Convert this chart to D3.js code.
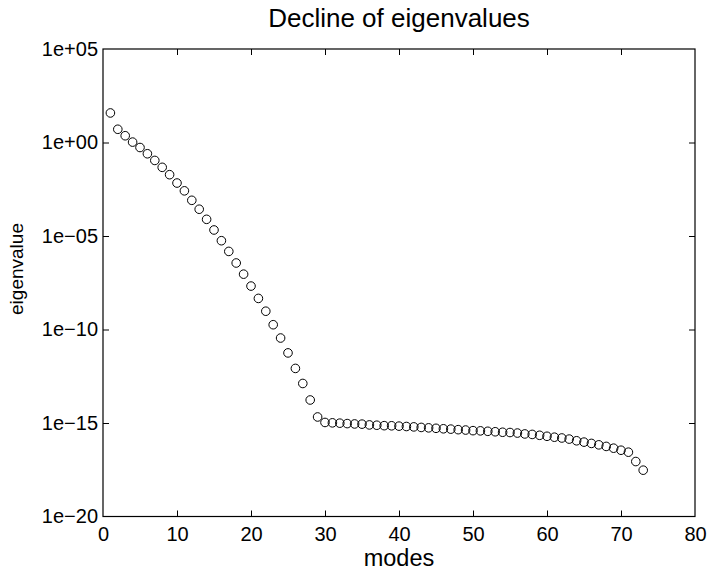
<!DOCTYPE html>
<html>
<head>
<meta charset="utf-8">
<script src="https://cdn.jsdelivr.net/npm/d3@7"></script>
<style>
  body { margin: 0; background: #fff; }
  text { font-family: "Liberation Sans", Arial, Helvetica, sans-serif; fill: #000; }
</style>
</head>
<body>
<div id="chart"></div>
<script>
// eigenvalues, one per mode (1..73)
let eigenvalues = [
    3.8e1, 5.1e0, 2.3e0, 1.05e0, 5.4e-1, 2.5e-1, 1.1e-1, 4.7e-2, 1.9e-2, 6.8e-3,
    2.6e-3, 8.1e-4, 2.7e-4, 7.8e-5, 2.1e-5, 5.6e-6, 1.5e-6, 3.6e-7, 9.1e-8, 2.1e-8,
    4.6e-9, 9.5e-10, 1.8e-10, 3.5e-11, 5.6e-12, 8.3e-13, 1.3e-13, 1.7e-14, 2.1e-15, 1.07e-15,
    1.02e-15, 9.8e-16, 9.3e-16, 8.9e-16, 8.7e-16, 7.9e-16, 7.6e-16, 7.2e-16, 7.1e-16, 6.8e-16,
    6.5e-16, 6.2e-16, 5.8e-16, 5.5e-16, 5.2e-16, 4.9e-16, 4.7e-16, 4.4e-16, 4.2e-16, 3.9e-16,
    3.8e-16, 3.6e-16, 3.4e-16, 3.2e-16, 3.1e-16, 2.9e-16, 2.6e-16, 2.45e-16, 2.2e-16, 1.95e-16,
    1.74e-16, 1.58e-16, 1.38e-16, 1.12e-16, 9.5e-17, 8.1e-17, 6.8e-17, 5.6e-17, 4.5e-17, 3.5e-17,
    2.75e-17, 8.7e-18, 3.0e-18
];
let modes = eigenvalues.map(function (d, i) { return i + 1; });

let xTicks = [0, 10, 20, 30, 40, 50, 60, 70, 80];
let yTicks = [1e5, 1e0, 1e-5, 1e-10, 1e-15, 1e-20];
let yTickLabels = ['1e+05', '1e+00', '1e\u221205', '1e\u221210', '1e\u221215', '1e\u221220'];

let data = modes.map(function (m, i) { return { mode: m, value: eigenvalues[i] }; });

// Set dimensions and margins
let margin = { top: 49, right: 15, bottom: 54.5, left: 103 },
    width = 710 - margin.left - margin.right,
    height = 571 - margin.top - margin.bottom;

// Set ranges
let x = d3.scaleLinear().domain([0, 80]).range([0, width]);
let y = d3.scaleLog().domain([1e-20, 1e5]).range([height, 0]);

let svg = d3.select('#chart')
    .append('svg')
    .attr('width', 710)
    .attr('height', 571)
    .append('g')
    .attr('transform', 'translate(' + margin.left + ',' + margin.top + ')');

let tickLen = 6;

// Bottom axis with labels, top axis mirrored without labels (ticks inside)
let xAxis = svg.append('g')
    .attr('transform', 'translate(0,' + height + ')')
    .call(d3.axisBottom(x).tickValues(xTicks).tickSizeInner(-tickLen).tickSizeOuter(0).tickPadding(10));
xAxis.selectAll('text').attr('font-size', 20).attr('dy', '0.71em');

svg.append('g')
    .call(d3.axisTop(x).tickValues(xTicks).tickSizeInner(-tickLen).tickSizeOuter(0).tickFormat(''));

let yAxis = svg.append('g')
    .call(d3.axisLeft(y).tickValues(yTicks).tickSizeInner(-tickLen).tickSizeOuter(0).tickPadding(5)
        .tickFormat(function (d, i) { return yTickLabels[i]; }));
yAxis.selectAll('text').attr('font-size', 20);

svg.append('g')
    .attr('transform', 'translate(' + width + ',0)')
    .call(d3.axisRight(y).tickValues(yTicks).tickSizeInner(-tickLen).tickSizeOuter(0).tickFormat(''));

svg.selectAll('.domain').remove();
svg.selectAll('.tick line').attr('stroke', '#000').attr('stroke-width', 1);
svg.selectAll('.tick text').attr('font-family', '"Liberation Sans", Arial, sans-serif').attr('fill', '#000');
// skip ticks sitting on the frame corners
svg.selectAll('.tick').filter(function (d) { return d === 0 || d === 80 || d === 1e5 || d === 1e-20; })
    .select('line').attr('stroke', 'none');

// Frame
svg.append('rect')
    .attr('x', 0)
    .attr('y', 0)
    .attr('width', width)
    .attr('height', height)
    .attr('fill', 'none')
    .attr('stroke', '#000')
    .attr('stroke-width', 1.2);

// Markers
svg.selectAll('circle')
    .data(data)
    .enter()
    .append('circle')
    .attr('cx', function (d) { return x(d.mode); })
    .attr('cy', function (d) { return y(d.value); })
    .attr('r', 4.3)
    .attr('fill', 'none')
    .attr('stroke', '#000')
    .attr('stroke-width', 1);

// Title and labels
svg.append('text')
    .attr('x', width / 2)
    .attr('y', -22)
    .attr('text-anchor', 'middle')
    .attr('font-size', 26)
    .text('Decline of eigenvalues');

svg.append('text')
    .attr('x', width / 2)
    .attr('y', height + 49)
    .attr('text-anchor', 'middle')
    .attr('font-size', 23.5)
    .text('modes');

svg.append('text')
    .attr('transform', 'translate(' + (-80) + ',' + (269 - margin.top) + ') rotate(-90)')
    .attr('text-anchor', 'middle')
    .attr('font-size', 19)
    .text('eigenvalue');
</script>
</body>
</html>
